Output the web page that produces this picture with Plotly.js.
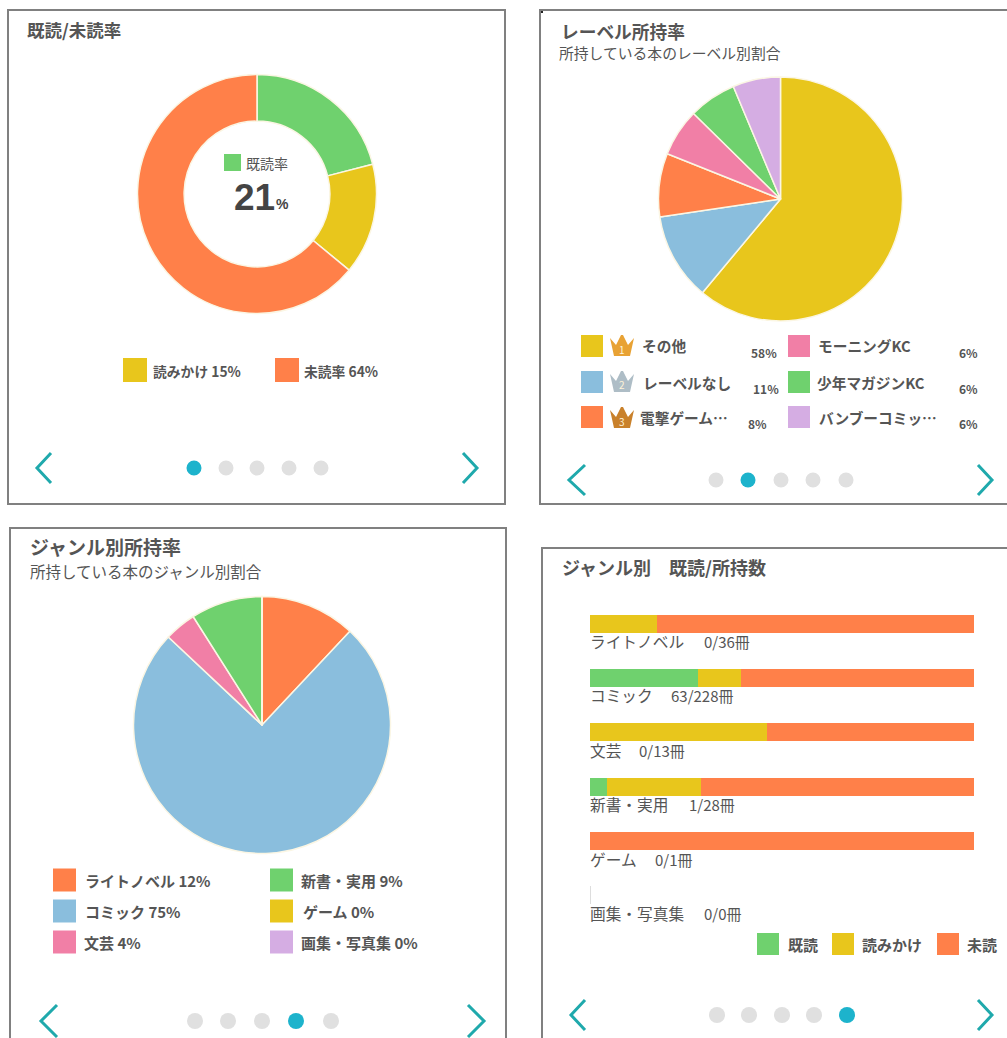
<!DOCTYPE html>
<html><head><meta charset="utf-8">
<script src="https://cdn.plot.ly/plotly-3.0.1.min.js"></script>
<style>html,body{margin:0;padding:0;background:#fff;overflow:hidden}#c{width:1007px;height:1038px}</style>
</head><body><div id="c"></div>
<script>
const GREEN='#6FD16E',YELLOW='#E8C61C',ORANGE='#FF8049',BLUE='#8ABEDD',PINK='#F17FA6',PURPLE='#D5ADE3';
// panel 1
const readLabels=['既読率','読みかけ','未読率'];
const readValues=[21,15,64];
// panel 2
const levelLabels=['その他','レーベルなし','電撃ゲーム…','モーニングKC','少年マガジンKC','バンブーコミッ…'];
const levelValues=[58,11,8,6,6,6];
// panel 3
const genreLabels=['ライトノベル','コミック','文芸','新書・実用','ゲーム','画集・写真集'];
const genreValues=[12,75,4,9,0,0];
// panel 4: read/owned counts from the labels, bar shares (%)
const genreRead=[0,63,0,1,0,0];
const genreTotals=[36,228,13,28,1,0];
const barRead=[0,28.2,0,4.3,0,0];
const barReading=[17.4,11,46.2,24.6,0,0];
const barUnread=[82.6,60.8,53.8,71.1,100,0];

const W=1007,H=1038;
const px=x=>x/W, py=y=>1-y/H;
const TXT='#555555',FONT='"Noto Sans CJK JP","Noto Sans",sans-serif';
const shapes=[],annotations=[];
function note(x,y,text,size,opts){annotations.push(Object.assign({xref:'paper',yref:'paper',x:px(x),y:py(y),text,showarrow:false,
 xanchor:'left',yanchor:'middle',align:'left',borderpad:0,font:{family:FONT,size,color:TXT}},opts||{}));}
function rect(x0,y0,x1,y1,fill,line){shapes.push({type:'rect',xref:'paper',yref:'paper',x0:px(x0),x1:px(x1),y0:py(y0),y1:py(y1),fillcolor:fill,
 line:line||{width:0},layer:'above'});}
function dot(x,y,r,fill){shapes.push({type:'circle',xref:'paper',yref:'paper',x0:px(x-r),x1:px(x+r),y0:py(y-r),y1:py(y+r),fillcolor:fill,line:{width:0},layer:'above'});}
function poly(pts,opts){shapes.push(Object.assign({type:'path',xref:'paper',yref:'paper',
 path:pts.map((p,i)=>(i?'L':'M')+px(p[0])+','+py(p[1])).join(' '),layer:'above'},opts));}
function arrows(lx0,lx1,rx0,rx1,yc,h){
 const l={line:{color:'#1FA9AC',width:3},fillcolor:'rgba(0,0,0,0)'};
 poly([[lx0,yc-h],[lx1,yc],[lx0,yc+h]],l);poly([[rx0,yc-h],[rx1,yc],[rx0,yc+h]],l);}
function dots(xs,y,r,active){xs.forEach((x,i)=>dot(x,y,r,i===active?'#1DB3CC':'#E0E0E0'));}
function crown(x,y,color,n){
 poly([[x-12,y-8],[x-6,y-1],[x-1,y-11],[x+1,y-11],[x+6,y-1],[x+12,y-8],[x+8,y+10],[x-8,y+10]],
 {line:{width:0},fillcolor:color});
 note(x,y+3,String(n),10,{xanchor:'center',font:{family:FONT,size:10,color:'#FFF3D8'}});}
function border(x0,y0,x1,y1){rect(x0,y0,x1,y1,'rgba(0,0,0,0)',{color:'#808080',width:2});}
function pieTrace(labels,values,colors,cx,cy,r,hole){return {type:'pie',labels,values,sort:false,direction:'clockwise',rotation:0,hole:hole||0,
 marker:{colors,line:{color:'#FBF6E4',width:1.5}},textinfo:'none',hoverinfo:'skip',showlegend:false,
 domain:{x:[px(cx-r),px(cx+r)],y:[py(cy+r),py(cy-r)]}};}

// Panel 1
border(8,10,505,504);
note(26,29,'<b>既読/未読率</b>',17.5);
rect(224,154,241,171,GREEN);
note(245,163,readLabels[0],14);
const NUM='"Liberation Sans",sans-serif';
note(233,198,'<b>'+readValues[0]+'</b>',37,{font:{family:NUM,size:37,color:'#444'}});
note(275,204,'<b>%</b>',14,{font:{family:NUM,size:14,color:'#444'}});
rect(123,358,147,382,YELLOW);note(152,371,'<b>'+readLabels[1]+' '+readValues[1]+'%</b>',13.8);
rect(275,358,299,382,ORANGE);note(303,371,'<b>'+readLabels[2]+' '+readValues[2]+'%</b>',13.8);
dots([194,226,257,289,321],468,7.5,0);
arrows(51,37,463,477,468,15);

// Panel 2
border(540,10,1012,504);
rect(541,11,543,13,'#222');
note(560,31,'<b>レーベル所持率</b>',17.7);
note(558,52,'所持している本のレーベル別割合',14.8);
const c2=[YELLOW,BLUE,ORANGE,PINK,GREEN,PURPLE];
const lv=[[581,346,641,750],[581,382,642,752],[581,417,639,747],[788,346,817,958],[788,382,816,958],[788,417,818,958]];
lv.forEach((a,i)=>{rect(a[0],a[1]-11,a[0]+22,a[1]+11,c2[i]);
 note(a[2],a[1],'<b>'+levelLabels[i]+'</b>',14.7);
 note(a[3],a[1]+6,'<b>'+levelValues[i]+'%</b>',12);});
crown(622,346,'#E8A234',1);crown(622,382,'#AEBDC6',2);crown(622,418,'#C9812B',3);
dots([716,748,781,813,846],480,7.5,1);
arrows(585,569,978,992,480,15);

// Panel 3
border(10,528,506,1045);
note(29,546,'<b>ジャンル別所持率</b>',19);
note(29,571,'所持している本のジャンル別割合',15.5);
const c3=[ORANGE,BLUE,PINK,GREEN,YELLOW,PURPLE];
const gv=[[53,880,84],[53,911,84],[53,942,83],[270,880,300],[270,911,302],[270,942,300]];
gv.forEach((a,i)=>{rect(a[0],a[1]-11.5,a[0]+23,a[1]+11.5,c3[i]);
 note(a[2],a[1],'<b>'+genreLabels[i]+' '+genreValues[i]+'%</b>',15);});
dots([195,228,262,296,331],1021,8,3);
arrows(57,41,468,484,1021,16);

// Panel 4
border(542,548,1012,1045);
note(561,567,'<b>ジャンル別　既読/所持数</b>',18);
const rowY=[641,695,750,804,859,913];
const countX=[703,670,638,688,654,703];
genreLabels.forEach((g,i)=>{note(589,rowY[i],g,15.7);
 note(countX[i],rowY[i],genreRead[i]+'/'+genreTotals[i]+'冊',15);});
rect(590,886,591,904,'#DDDDDD');
[[757,GREEN,787,'既読'],[832,YELLOW,861,'読みかけ'],[937,ORANGE,966,'未読']].forEach(a=>{
 rect(a[0],933,a[0]+22,955,a[1]);note(a[2],944,'<b>'+a[3]+'</b>',15);});
dots([717,749,782,814,847],1015,8,4);
arrows(585,571,978,992,1015,15);

function barTrace(name,x,color){return {type:'bar',orientation:'h',name,x,y:genreLabels,marker:{color,line:{width:0}},hoverinfo:'skip',showlegend:false,xaxis:'x',yaxis:'y'};}
const data=[
 pieTrace(readLabels,readValues,[GREEN,YELLOW,ORANGE],257,194,119.5,0.61),
 pieTrace(levelLabels,levelValues,c2,780.5,199,122),
 pieTrace(genreLabels,genreValues,c3,262,725,128.5),
 barTrace('既読',barRead,GREEN),barTrace('読みかけ',barReading,YELLOW),barTrace('未読',barUnread,ORANGE)];
const layout={width:W,height:H,margin:{l:0,r:0,t:0,b:0},paper_bgcolor:'#fff',plot_bgcolor:'rgba(0,0,0,0)',
 barmode:'stack',bargap:0.667,showlegend:false,
 xaxis:{domain:[px(590),px(974)],range:[0,100],visible:false,fixedrange:true},
 yaxis:{domain:[py(922),py(597)],type:'category',range:[5.5,-0.5],visible:false,fixedrange:true},
 shapes,annotations,font:{family:FONT}};
Plotly.newPlot('c',data,layout,{displayModeBar:false,staticPlot:true});
</script></body></html>
